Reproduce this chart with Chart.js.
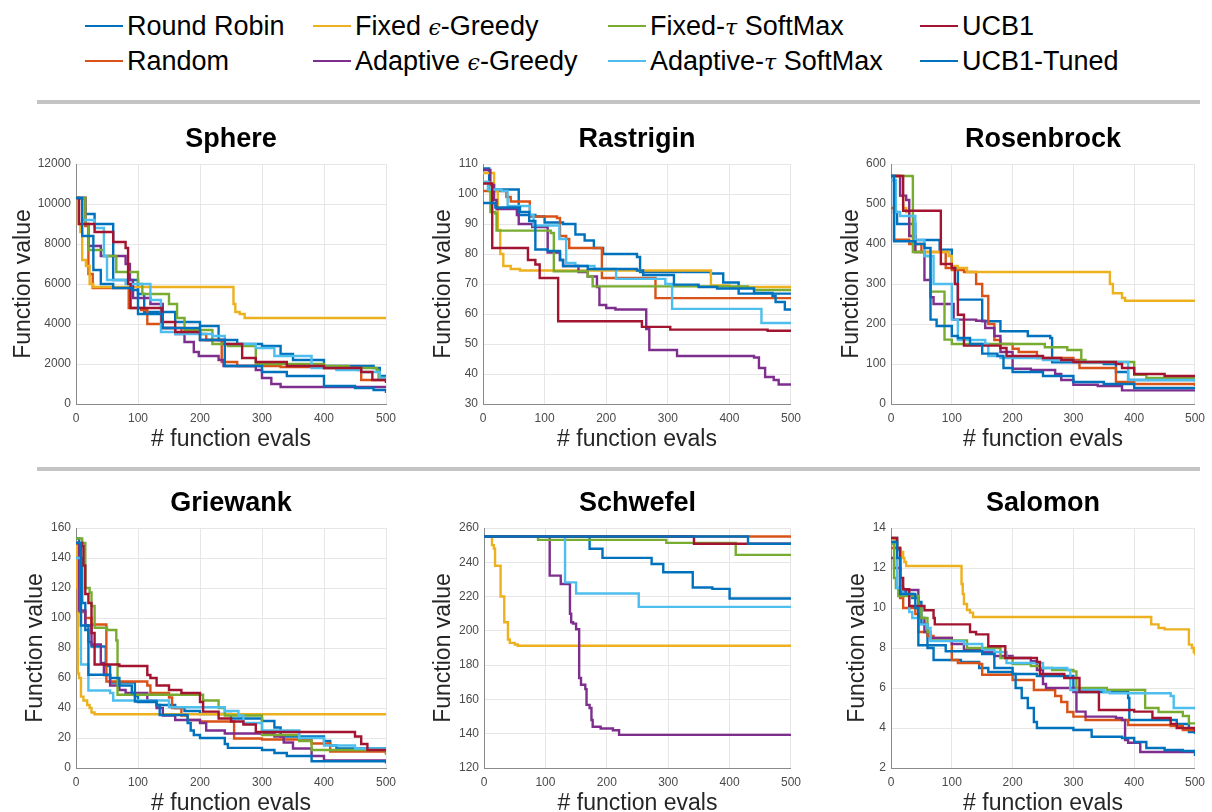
<!DOCTYPE html>
<html>
<head>
<meta charset="utf-8">
<script src="https://cdn.jsdelivr.net/npm/chart.js@4.4.1/dist/chart.umd.min.js"></script>
<style>
  html, body { margin: 0; padding: 0; background: #fff; overflow: hidden; }
  body { width: 1212px; height: 812px; position: relative; font-family: "Liberation Sans", Arial, Helvetica, sans-serif; }
  .sep { position: absolute; left: 37px; width: 1163px; height: 4px; background: #c4c4c4; }
  .leg { position: absolute; height: 32px; display: flex; align-items: center; font-size: 27px; color: #000; white-space: pre; }
  .leg .ln { width: 38px; height: 2px; margin-right: 4px; }
  .leg i { font-family: "DejaVu Serif", serif; font-size: 22px; }
  .plot { position: absolute; }
</style>
</head>
<body>
<div id="legend"></div>
<div class="sep" style="top:100px"></div>
<div class="sep" style="top:467px"></div>

<canvas id="c0" class="plot" width="404" height="340" style="left:0px;top:120px;width:404px;height:340px"></canvas>
<canvas id="c1" class="plot" width="404" height="340" style="left:404px;top:120px;width:404px;height:340px"></canvas>
<canvas id="c2" class="plot" width="404" height="340" style="left:808px;top:120px;width:404px;height:340px"></canvas>
<canvas id="c3" class="plot" width="404" height="340" style="left:0px;top:484px;width:404px;height:340px"></canvas>
<canvas id="c4" class="plot" width="404" height="340" style="left:404px;top:484px;width:404px;height:340px"></canvas>
<canvas id="c5" class="plot" width="404" height="340" style="left:808px;top:484px;width:404px;height:340px"></canvas>

<script>
// series order: Round Robin, Random, Fixed eps, Adaptive eps, Fixed tau, Adaptive tau, UCB1, UCB1-Tuned
var methods = ['Round Robin', 'Random', 'Fixed ϵ-Greedy', 'Adaptive ϵ-Greedy',
               'Fixed-τ SoftMax', 'Adaptive-τ SoftMax', 'UCB1', 'UCB1-Tuned'];
var colors = ['#0072BD', '#D95319', '#EDB120', '#7E2F8E', '#77AC30', '#4DBEEE', '#A2142F', '#0072BD'];
var xTicks = [0, 100, 200, 300, 400, 500];

// best-so-far values, [eval, value] at each improvement
var sphere = [
  [[0,10300],[15,9500],[30,9000],[60,6200],[100,5500],[110,4600],[160,4100],[200,3900],[230,3200],[260,3000],[300,2900],[330,2500],[350,2200],[400,1900],[480,1800],[490,1400],[500,1400]],
  [[0,10300],[15,8900],[20,6500],[27,5800],[85,4800],[105,4700],[115,4000],[140,3800],[170,3600],[200,3500],[210,3200],[235,2100],[260,1900],[330,1850],[400,1800],[455,1700],[460,1200],[500,1100]],
  [[0,10300],[3,9000],[7,8600],[10,7200],[16,6900],[22,6000],[28,5850],[254,5000],[257,4600],[264,4500],[272,4300],[500,4300]],
  [[0,10300],[15,9000],[20,7900],[40,7400],[80,7000],[87,6200],[92,5300],[120,5000],[140,3800],[160,3500],[175,3100],[190,2600],[198,2400],[230,2200],[238,1900],[290,1700],[300,1300],[315,1000],[330,850],[500,800]],
  [[0,10300],[15,9000],[20,7700],[45,7400],[65,6600],[100,6000],[107,5500],[150,5000],[163,4300],[175,3700],[220,3000],[245,2900],[290,2000],[400,1900],[440,1800],[485,1700],[488,1300],[500,1300]],
  [[0,10300],[10,9200],[30,8800],[45,7400],[50,6200],[80,6000],[120,5200],[137,3600],[160,3500],[220,3400],[240,3000],[290,2800],[320,2400],[380,1800],[420,1700],[460,1600],[490,1300],[500,1300]],
  [[0,10300],[5,9000],[30,8600],[60,8100],[80,7800],[84,6000],[88,4800],[138,4100],[160,3600],[200,3200],[240,3000],[268,2300],[290,2100],[340,1900],[400,1800],[460,1600],[478,1200],[500,1050]],
  [[0,10300],[10,8400],[28,6700],[40,6000],[60,5800],[90,5700],[100,4500],[140,3800],[200,3200],[240,1900],[300,1600],[340,1400],[400,900],[450,800],[480,700],[500,550]]
];

var rastrigin = [
  [[0,108.5],[10,101.5],[58,93],[85,92.5],[100,90.5],[130,90],[150,86.5],[165,84.5],[180,82],[195,80],[250,79],[255,74],[370,73.5],[390,70.5],[415,66.8],[500,66.7]],
  [[0,101],[38,99],[45,97.5],[76,92.5],[120,92],[125,86],[135,85],[140,82],[193,72],[280,65.3],[500,65.3]],
  [[0,107],[18,101],[24,88],[28,80],[33,76],[45,75],[60,74.5],[370,69.5],[400,69],[500,68.7]],
  [[0,108],[12,103],[18,98],[22,95],[55,93],[58,90],[80,89],[105,80.5],[125,78],[130,76],[155,74],[170,72.5],[185,69],[189,63],[200,62],[215,61.5],[265,55],[270,48],[315,46],[440,45.5],[448,42],[458,39],[472,38],[480,36.5],[500,36.3]],
  [[0,104],[10,101],[12,94],[20,93.5],[22,87.8],[110,87],[115,74.2],[170,72.5],[178,69.2],[430,68.7],[440,68],[500,67.8]],
  [[0,104],[8,101.5],[30,101],[40,96],[76,93],[82,89.5],[124,85],[135,77],[150,76],[181,75],[216,71.7],[296,70],[307,61.7],[452,57],[500,57]],
  [[0,103.5],[15,82],[73,78],[85,76.5],[92,72],[122,57.6],[258,55.7],[304,54.8],[462,54.4],[500,54.4]],
  [[0,97],[20,95.5],[60,94],[75,91],[85,81.5],[105,81],[125,78],[130,76],[170,75],[250,74.5],[260,73],[310,69.8],[350,69],[380,68.5],[440,67],[470,66],[475,64],[490,61.5],[500,61.3]]
];

var rosenbrock = [
  [[0,560],[5,480],[10,450],[40,410],[80,386],[100,340],[110,261],[150,207],[180,182],[225,170],[262,165],[265,104],[350,100],[370,80],[390,60],[500,55]],
  [[0,490],[5,411],[30,400],[50,380],[90,340],[100,335],[120,330],[140,300],[150,270],[160,200],[170,160],[180,150],[200,138],[210,130],[240,115],[300,110],[310,90],[370,55],[400,50],[500,45]],
  [[0,570],[15,520],[20,490],[25,480],[30,420],[40,380],[95,370],[100,345],[110,340],[125,330],[360,300],[365,277],[380,265],[385,258],[500,258]],
  [[0,570],[15,521],[25,510],[30,420],[40,380],[55,310],[65,267],[70,250],[103,211],[140,208],[155,190],[170,170],[180,130],[200,88],[230,85],[270,75],[280,60],[300,48],[340,45],[380,34],[500,34]],
  [[0,570],[35,569],[36,380],[55,370],[65,281],[88,161],[100,150],[250,150],[253,142],[290,135],[313,110],[320,105],[400,73],[420,65],[500,60]],
  [[0,560],[8,480],[15,470],[40,410],[55,370],[70,300],[100,211],[110,160],[155,150],[160,120],[180,115],[250,110],[300,105],[390,60],[500,55]],
  [[0,570],[20,483],[82,350],[100,340],[105,300],[110,223],[120,146],[180,140],[190,120],[250,115],[280,110],[300,105],[370,100],[380,90],[400,75],[450,70],[500,68]],
  [[0,570],[5,407],[40,400],[55,390],[65,211],[75,195],[100,170],[110,165],[130,150],[150,126],[175,120],[185,90],[200,80],[250,70],[300,55],[350,50],[400,40],[500,38]]
];

var griewank = [
  [[0,153],[5,140],[10,110],[15,92],[20,84],[25,81],[48,68],[55,57],[95,48],[100,44],[130,42],[160,40],[175,38],[200,36],[250,33],[300,31.3],[320,27],[330,21],[400,18],[410,15],[420,13],[500,12]],
  [[0,150],[3,104],[15,100],[25,95.7],[49,57.7],[115,55],[120,50],[150,47],[155,40],[170,35],[180,32],[200,31],[255,19.7],[300,19],[380,16.3],[410,11],[500,9]],
  [[0,150],[2,120],[3,63],[5,60],[8,47.6],[12,45],[18,42],[22,40],[25,37],[30,35.8],[500,35.8]],
  [[0,150],[5,105],[15,95],[25,82.3],[40,70],[45,62],[55,55],[70,52],[80,50],[115,45],[130,40],[140,35],[160,32],[200,30],[210,25],[240,23],[320,21],[335,17],[350,13],[380,8],[400,5],[500,4]],
  [[0,153],[10,150],[15,120],[22,117],[25,108],[30,93.5],[50,92],[65,85],[67,48.8],[205,45],[230,40],[240,35],[300,22],[360,18],[380,12],[500,9]],
  [[0,140],[8,69],[20,51.7],[55,50],[60,45],[150,40.5],[240,38],[262,35],[270,30],[300,25],[360,20],[400,15],[450,13],[500,12]],
  [[0,150],[10,148],[12,135],[15,116],[20,110],[25,90],[30,69],[70,68],[115,62],[120,60],[130,55],[150,52],[170,50],[200,44],[205,37.6],[230,33],[250,31],[270,29],[290,24],[450,21],[460,16],[470,12],[500,11]],
  [[0,150],[8,95],[20,62.2],[55,60],[70,55],[90,50],[95,44.3],[130,42],[135,35.3],[180,30],[185,25],[190,22],[200,20],[240,16],[245,13.4],[300,12],[320,10],[340,8],[380,4.5],[500,3]]
];

var schwefel = [
  [[0,255],[172,247.9],[193,242.6],[273,239],[292,234.2],[340,225.3],[372,224.5],[400,218.9],[500,218.9]],
  [[0,255],[500,255]],
  [[0,255],[13,250],[16,248],[18,238],[27,220],[33,205],[39,195],[42,193],[50,192],[55,191.3],[500,191.3]],
  [[0,255],[107,232.2],[125,227.3],[140,210],[142,205],[145,204.2],[150,200.9],[155,172.5],[158,168.6],[165,166],[167,156.8],[172,155],[175,148],[177,144.1],[190,143],[210,142],[220,139.3],[500,139.3]],
  [[0,255],[88,253.1],[297,251.3],[410,244.3],[500,244.3]],
  [[0,255],[132,228.3],[150,221.8],[252,214],[500,214]],
  [[0,255],[342,250.8],[500,250.5]],
  [[0,255],[430,250.8],[500,250.3]]
];

var salomon = [
  [[0,13.5],[10,12.9],[15,10.8],[25,10.7],[35,10.5],[45,10.3],[50,9.2],[60,8.0],[70,7.4],[115,7.3],[145,7.0],[160,6.8],[200,6.7],[240,6.6],[300,6.0],[305,5.8],[390,5.5],[392,4.4],[470,4.2],[490,3.8],[500,3.7]],
  [[0,13],[15,10.5],[20,10],[40,9.7],[45,8.8],[60,8.6],[70,8.5],[100,7.4],[110,7.25],[145,7.2],[150,6.66],[200,6.4],[235,5.9],[270,5.6],[280,5.3],[290,4.8],[300,4.57],[320,4.4],[390,4.15],[460,4.1],[480,3.9],[500,3.8]],
  [[0,13.5],[5,13.4],[10,13],[15,12.8],[20,12.5],[22,12.3],[25,12.1],[116,11.2],[118,10.7],[120,10.2],[125,9.9],[130,9.77],[135,9.55],[428,9.18],[440,9.0],[450,8.93],[490,8.17],[495,8.0],[498,7.8],[500,7.64]],
  [[0,12.5],[5,12],[15,11],[20,10.9],[45,9.5],[55,8.8],[65,8.5],[100,8.2],[120,7.9],[150,7.8],[170,7.6],[200,7.5],[230,7.34],[240,6.9],[250,6.2],[255,6.0],[300,5.8],[305,4.82],[320,4.57],[370,4.5],[380,4.4],[385,3.4],[390,3.26],[410,2.8],[500,2.8]],
  [[0,13.2],[5,11.5],[8,11],[12,10.6],[45,10],[50,9.5],[60,8.8],[65,8.38],[125,8.0],[180,7.5],[200,7.2],[230,7.1],[245,7.0],[265,6.9],[300,6.83],[305,6.0],[355,5.9],[418,5.0],[440,4.8],[480,4.6],[490,4.23],[500,4.23]],
  [[0,13.3],[10,11],[20,10.7],[30,9.8],[35,9.5],[45,9.18],[60,9.0],[65,8.35],[120,8.2],[150,7.9],[170,7.8],[190,7.25],[250,7.0],[290,6.9],[295,5.9],[350,5.8],[360,5.74],[460,5.6],[465,5.0],[500,4.93]],
  [[0,13.5],[10,13],[15,11.5],[20,10.94],[30,10.1],[55,9.89],[70,9.5],[72,9.18],[130,8.8],[140,8.68],[160,8.09],[188,7.5],[240,7.3],[245,6.7],[285,6.5],[310,5.8],[342,4.9],[400,4.82],[430,4.5],[460,4.2],[470,4.0],[500,3.81]],
  [[0,13.3],[10,12.5],[15,10.7],[40,10.0],[45,8.14],[90,7.84],[150,7.7],[170,7.0],[200,6.7],[205,6.0],[215,5.5],[225,5.0],[235,4.3],[240,4.0],[300,3.9],[330,3.56],[380,3.5],[400,3.3],[420,3.0],[450,2.9],[480,2.85],[500,2.6]]
];

var titles = ['Sphere', 'Rastrigin', 'Rosenbrock', 'Griewank', 'Schwefel', 'Salomon'];
var allData = [sphere, rastrigin, rosenbrock, griewank, schwefel, salomon];
var yMin = [0, 30, 0, 0, 120, 2];
var yMax = [12000, 110, 600, 160, 260, 14];
var yStep = [2000, 10, 100, 20, 20, 2];
// layout per panel: y-axis width, y-title centre, right padding
var yAxisW = [76, 79, 83, 76, 80, 83];
var yTitleX = [24, 40, 44, 36, 40, 50];
var rightPad = [18, 14, 11, 18, 14, 11];

var FONT = '"Liberation Sans", Arial, Helvetica, sans-serif';

// legend, 4 columns x 2 rows, row-major
var legendCols = [85, 313, 608, 920];
var legendRows = [10, 45];
var legendOrder = [0, 2, 4, 6, 1, 3, 5, 7];
var legendHtml = '';
legendOrder.forEach(function (k, n) {
  var label = methods[k].replace('ϵ', '<i>ϵ</i>').replace('τ', '<i>τ</i>');
  legendHtml += '<div class="leg" style="left:' + legendCols[n % 4] + 'px;top:' + legendRows[Math.floor(n / 4)] + 'px">' +
    '<span class="ln" style="background:' + colors[k] + '"></span><span>' + label + '</span></div>';
});
document.getElementById('legend').innerHTML = legendHtml;

function makePanel(p) {
  var datasets = allData[p].map(function (series, i) {
    return {
      label: methods[i],
      data: series.map(function (pt) { return { x: pt[0], y: pt[1] }; }),
      borderColor: colors[i],
      backgroundColor: colors[i],
      borderWidth: 2.4,
      pointRadius: 0,
      stepped: true,
      fill: false,
      order: 8 - i
    };
  });

  new Chart(document.getElementById('c' + p), {
    type: 'line',
    data: { datasets: datasets },
    options: {
      responsive: false,
      animation: false,
      layout: { padding: { left: 0, right: rightPad[p], top: 0, bottom: 0 } },
      plugins: {
        legend: { display: false },
        tooltip: { enabled: false },
        title: {
          display: true,
          text: titles[p],
          fullSize: false,
          color: '#000',
          font: { family: FONT, size: 27, weight: 'bold', lineHeight: 1 },
          padding: { top: 6.5, bottom: 10.5 }
        }
      },
      scales: {
        x: {
          type: 'linear',
          min: 0,
          max: 500,
          afterBuildTicks: function (s) { s.ticks = xTicks.map(function (v) { return { value: v }; }); },
          ticks: { color: '#4a4a4a', padding: 7, maxRotation: 0, font: { family: FONT, size: 12 } },
          grid: { color: '#e6e6e6', drawTicks: false },
          border: { color: '#8a8a8a', width: 1 },
          title: {
            display: true,
            text: '# function evals',
            color: '#262626',
            font: { family: FONT, size: 23, lineHeight: 1 },
            padding: { top: 0, bottom: 8.5 }
          },
          afterFit: function (s) { s.height = 56; }
        },
        y: {
          type: 'linear',
          min: yMin[p],
          max: yMax[p],
          ticks: {
            stepSize: yStep[p],
            color: '#4a4a4a',
            padding: 5,
            font: { family: FONT, size: 12 },
            callback: function (v) { return String(v); }
          },
          grid: { color: '#e6e6e6', drawTicks: false },
          border: { color: '#8a8a8a', width: 1 },
          title: {
            display: true,
            text: 'Function value',
            color: '#262626',
            font: { family: FONT, size: 23, lineHeight: 1 },
            padding: { top: yTitleX[p] - 11.5, bottom: 0 }
          },
          afterFit: function (s) { s.width = yAxisW[p]; }
        }
      }
    }
  });
}

for (var p = 0; p < 6; p++) makePanel(p);
</script>
</body>
</html>
